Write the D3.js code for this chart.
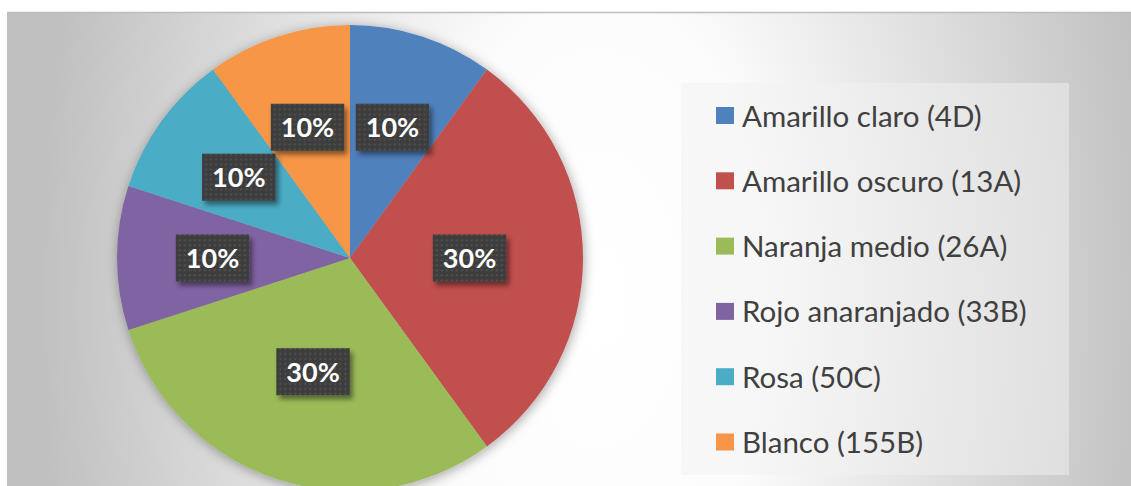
<!DOCTYPE html>
<html>
<head>
<meta charset="utf-8">
<script src="https://cdn.jsdelivr.net/npm/d3@7"></script>
<style>
  html, body { margin: 0; padding: 0; background: #ffffff; }
  svg { display: block; }
</style>
</head>
<body>
<svg id="chart" width="1131" height="486"></svg>
<script>
// ---- data ----
const categories = [
  "Amarillo claro (4D)",
  "Amarillo oscuro (13A)",
  "Naranja medio (26A)",
  "Rojo anaranjado (33B)",
  "Rosa (50C)",
  "Blanco (155B)"
];
const values = [10, 30, 30, 10, 10, 10];
const colors = ["#4f81bd", "#c0504d", "#9bbb59", "#8064a2", "#4bacc6", "#f79646"];

// ---- layout ----
const W = 1131, H = 486;
const svg = d3.select("#chart");
const defs = svg.append("defs");

// background gradient
const bg = defs.append("radialGradient")
  .attr("id", "bgGrad")
  .attr("gradientUnits", "userSpaceOnUse")
  .attr("cx", 600).attr("cy", 300).attr("r", 560)
  .attr("gradientTransform", "translate(600,300) scale(1,1.8) translate(-600,-300)");
bg.append("stop").attr("offset", 0).attr("stop-color", "#ffffff");
bg.append("stop").attr("offset", 0.3).attr("stop-color", "#fcfcfc");
bg.append("stop").attr("offset", 1).attr("stop-color", "#c0c0c0");

// pie shadow
const pf = defs.append("filter").attr("id", "pieShadow")
  .attr("x", "-20%").attr("y", "-20%").attr("width", "140%").attr("height", "140%");
pf.append("feDropShadow").attr("dx", 1).attr("dy", 2).attr("stdDeviation", 6)
  .attr("flood-color", "#000").attr("flood-opacity", 0.35);

// label shadow
const lf = defs.append("filter").attr("id", "lblShadow")
  .attr("x", "-30%").attr("y", "-30%").attr("width", "160%").attr("height", "160%");
lf.append("feDropShadow").attr("dx", 3).attr("dy", 4).attr("stdDeviation", 2.5)
  .attr("flood-color", "#000").attr("flood-opacity", 0.45);

// dotted pattern for labels
const pat = defs.append("pattern").attr("id", "dots")
  .attr("patternUnits", "userSpaceOnUse").attr("width", 5).attr("height", 5);
pat.append("rect").attr("width", 5).attr("height", 5).attr("fill", "#3e3e3e");
pat.append("rect").attr("x", 1.5).attr("y", 1.5).attr("width", 1.6).attr("height", 1.6)
  .attr("fill", "#575757");

// chart area
svg.append("rect").attr("x", 7).attr("y", 12).attr("width", W - 7).attr("height", H - 12)
  .attr("fill", "url(#bgGrad)");
svg.append("line").attr("x1", 7).attr("x2", W).attr("y1", 12.5).attr("y2", 12.5)
  .attr("stroke", "#bdbdbd").attr("stroke-width", 1.5);

// pie
const cx = 350, cy = 258, R = 233;
const total = d3.sum(values);
const pie = d3.pie().sort(null).value(d => d);
const arcs = pie(values);
const arc = d3.arc().innerRadius(0).outerRadius(R);

const g = svg.append("g").attr("transform", `translate(${cx},${cy})`);
g.append("g").attr("filter", "url(#pieShadow)")
  .selectAll("path").data(arcs).join("path")
  .attr("d", arc)
  .attr("fill", (d, i) => colors[i]);

// labels
const fmt = d3.format(".0%");
const lblG = g.append("g");
arcs.forEach((d, i) => {
  const share = d.data / total;
  const lr = share >= 0.2 ? R * 0.513 : R * 0.59;
  const a = (d.startAngle + d.endAngle) / 2;
  const x = Math.sin(a) * lr, y = -Math.cos(a) * lr;
  const grp = lblG.append("g").attr("transform", `translate(${x},${y})`);
  const rect = grp.append("rect").attr("fill", "url(#dots)").attr("filter", "url(#lblShadow)");
  const t = grp.append("text")
    .attr("text-anchor", "middle")
    .attr("y", 10)
    .attr("fill", "#ffffff")
    .style("font-family", "Lato, 'Open Sans', sans-serif")
    .style("font-weight", 700)
    .style("font-size", "27px")
    .text(fmt(share));
  const bw = t.node().getComputedTextLength() + 20;
  const bh = 47;
  rect.attr("x", -bw / 2).attr("y", -bh / 2).attr("width", bw).attr("height", bh);
});

// legend
const leg = svg.append("g");
leg.append("rect").attr("x", 681).attr("y", 83).attr("width", 388).attr("height", 392)
  .attr("fill", "#f2f2f2").attr("fill-opacity", 0.5);
const ly = d3.scalePoint().domain(categories).range([115.5, 442]);
const items = leg.selectAll("g.item").data(categories).join("g")
  .attr("class", "item")
  .attr("transform", d => `translate(716,${ly(d)})`);
items.append("rect").attr("x", 0).attr("y", -8.5).attr("width", 18).attr("height", 17)
  .attr("fill", (d, i) => colors[i]);
items.append("text").attr("x", 26).attr("y", 11)
  .attr("fill", "#404040")
  .style("font-family", "Lato, 'Open Sans', sans-serif")
  .style("font-size", "29.5px")
  .text(d => d);
</script>
</body>
</html>
